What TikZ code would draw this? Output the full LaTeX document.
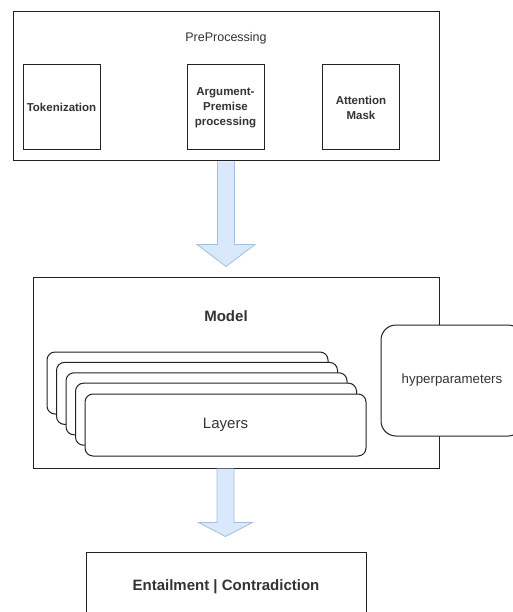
\documentclass[tikz,border=0pt]{standalone}
\usepackage{fontspec}
\setmainfont{Liberation Sans}
\usetikzlibrary{calc}
\definecolor{arrowfill}{HTML}{DAE8FC}
\definecolor{arrowline}{HTML}{A6BEDD}
\definecolor{txtgray}{HTML}{333333}
\definecolor{linegray}{HTML}{222222}

\begin{document}
\begin{tikzpicture}[x=1pt,y=-1pt,
  box/.style={draw=linegray,line width=1pt,fill=white,inner sep=0pt},
  card/.style={draw=linegray,line width=1pt,fill=white,rounded corners=8pt,minimum width=281pt,minimum height=62pt},
  blockarrow/.style={draw=arrowline,fill=arrowfill,line width=0.8pt,line join=miter},
  small/.style={font=\fontsize{11.5}{15}\selectfont\bfseries,text=txtgray,align=center},
  big/.style={font=\fontsize{15}{18}\selectfont,text=txtgray}]
\useasboundingbox (0,0) rectangle (513,612);
% preprocessing
\node[box,minimum width=426pt,minimum height=149pt] (pre) at (226,86.5) {};
\node[font=\fontsize{12.5}{15}\selectfont,text=txtgray] (pretitle) at (226,38) {PreProcessing};
\foreach \x/\nm/\txt in {61.5/tok/Tokenization, 225.5/arg/{Argument-\\Premise\\processing}, 361/att/{Attention\\Mask}}
  \node[box,small,minimum width=77pt,minimum height=85pt] (\nm) at (\x,107.5) {\txt};
% model
\node[box,minimum width=406pt,minimum height=191pt] (model) at (236,372.5) {};
\node[big,font=\fontsize{15}{18}\selectfont\bfseries] (modeltitle) at (226,316) {Model};
\foreach \i in {0,...,3}
  \node[card] (card\i) at (187.5+9.5*\i, 383+10.4*\i) {};
\node[card,big] (layers) at (225.5,425) {Layers};
\node[box,rounded corners=15pt,minimum width=142pt,minimum height=111pt,font=\fontsize{13.3}{16}\selectfont,text=txtgray] (hyper) at (452,380.5) {hyperparameters};
% output
\node[box,big,font=\fontsize{15}{18}\selectfont\bfseries,minimum width=280pt,minimum height=70pt] (entail) at (226,587) {Entailment | Contradiction};
% arrows
\coordinate (tip1) at ($(pre.south |- model.north)+(0,-10)$);
\coordinate (tip2) at ($(layers.south |- entail.north)+(0,-15)$);
\draw[blockarrow] ([xshift=-8.5pt]pre.south) -- ([shift={(-8.5,-22)}]tip1) -- ([shift={(-29,-22)}]tip1) -- (tip1)
  -- ([shift={(29,-22)}]tip1) -- ([shift={(8.5,-22)}]tip1) -- ([xshift=8.5pt]pre.south);
\draw[blockarrow] ([xshift=-8.5pt]layers.south |- model.south) -- ([shift={(-8.5,-14)}]tip2) -- ([shift={(-27,-14)}]tip2) -- (tip2)
  -- ([shift={(27,-14)}]tip2) -- ([shift={(8.5,-14)}]tip2) -- ([xshift=8.5pt]layers.south |- model.south);
\end{tikzpicture}
\end{document}
